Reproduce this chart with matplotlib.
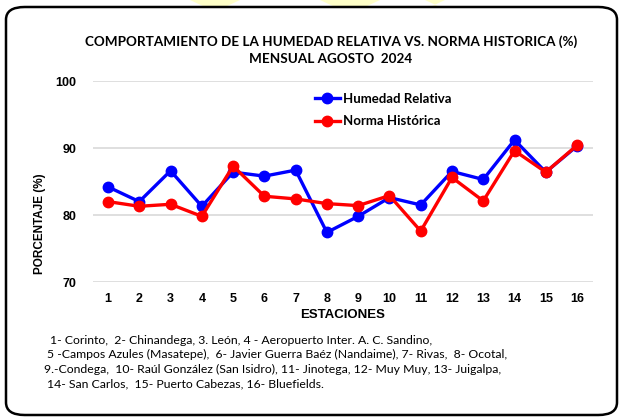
import matplotlib
matplotlib.use("Agg")
import matplotlib.pyplot as plt
from matplotlib.patches import FancyBboxPatch, Polygon

estaciones = list(range(1, 17))
humedad_relativa = [84.2, 82.0, 86.6, 81.3, 86.4, 85.8, 86.7, 77.4,
                    79.8, 82.6, 81.5, 86.5, 85.3, 91.2, 86.4, 90.3]
norma_historica = [82.0, 81.3, 81.6, 79.8, 87.3, 82.8, 82.4, 81.7,
                   81.4, 82.9, 77.6, 85.6, 82.1, 89.6, 86.4, 90.4]
yticks = [70, 80, 90, 100]

titulo = "COMPORTAMIENTO DE LA HUMEDAD RELATIVA VS. NORMA HISTORICA (%)\nMENSUAL AGOSTO  2024"
nota = [
    "1- Corinto,  2- Chinandega, 3. León, 4 - Aeropuerto Inter. A. C. Sandino,",
    "5 -Campos Azules (Masatepe),  6- Javier Guerra Baéz (Nandaime), 7- Rivas,  8- Ocotal,",
    "9.-Condega,  10- Raúl González (San Isidro), 11- Jinotega, 12- Muy Muy, 13- Juigalpa,",
    "14- San Carlos,  15- Puerto Cabezas, 16- Bluefields.",
]
nota_x = [50, 47, 44, 47]

narrow = ["Lato", "DejaVu Sans"]
plt.rcParams["font.family"] = ["Liberation Sans", "DejaVu Sans"]

W, H = 624, 419
fig = plt.figure(figsize=(W / 100, H / 100), dpi=100)

# faint yellow watermark peeking above the frame
for xs in [(190, 205, 240, 225), (320, 335, 380, 365), (425, 440, 445, 430)]:
    pts = [(xs[0] / W, 1.0), (xs[2] / W, 1.0), (xs[3] / W, 1 - 7 / H), (xs[1] / W, 1 - 7 / H)]
    fig.patches.append(Polygon(pts, closed=True, transform=fig.transFigure,
                               fc="#ffffc8", ec="none", zorder=0))

# rounded frame around the whole chart
frame = FancyBboxPatch((6 / W, 4 / H), 611 / W, 408 / H,
                       boxstyle="round,pad=0,rounding_size=0.03",
                       transform=fig.transFigure, fill=False, ec="black", lw=1.8)
fig.patches.append(frame)

ax = fig.add_axes([93 / W, 1 - 282 / H, 500 / W, 201 / H])
ax.plot(estaciones, humedad_relativa, color="#0000ff", lw=2.4, marker="o", ms=7.5,
        label="Humedad Relativa", zorder=3)
ax.plot(estaciones, norma_historica, color="#ff0000", lw=2.4, marker="o", ms=7.5,
        label="Norma Histórica", zorder=3)

ax.set_ylim(70, 100)
ax.set_xlim(0.52, 16.51)
ax.set_yticks(yticks)
ax.set_xticks(estaciones)
ax.grid(axis="y", color="#d9d9d9", lw=1.2)
ax.set_axisbelow(True)
for s in ax.spines.values():
    s.set_visible(False)
ax.tick_params(length=0, labelsize=9)
for lab in ax.get_xticklabels() + ax.get_yticklabels():
    lab.set_fontweight("bold")
ax.tick_params(axis="x", pad=8)
ax.tick_params(axis="y", pad=12)

ax.set_xlabel("ESTACIONES", fontsize=9.5, fontweight="bold", labelpad=3)
ax.set_ylabel("PORCENTAJE (%)", fontsize=8.5, fontweight="bold")
ax.yaxis.set_label_coords(-0.094, 0.29)

leg = ax.legend(loc="upper left", bbox_to_anchor=(0.42, 1.0), frameon=False,
                handlelength=1.9, labelspacing=0.8, handletextpad=0.2,
                prop={"family": narrow, "weight": "bold", "size": 9.5})

fig.text(331 / W, 1 - 50 / H, titulo, ha="center", va="center", fontsize=9.7,
         fontweight="bold", family=narrow, linespacing=1.5)

for i, (line, x) in enumerate(zip(nota, nota_x)):
    fig.text(x / W, 1 - (340 + 14.7 * i) / H, line, ha="left", va="center",
             fontsize=8.8, family=narrow)

fig.savefig("out.png", dpi=100)
